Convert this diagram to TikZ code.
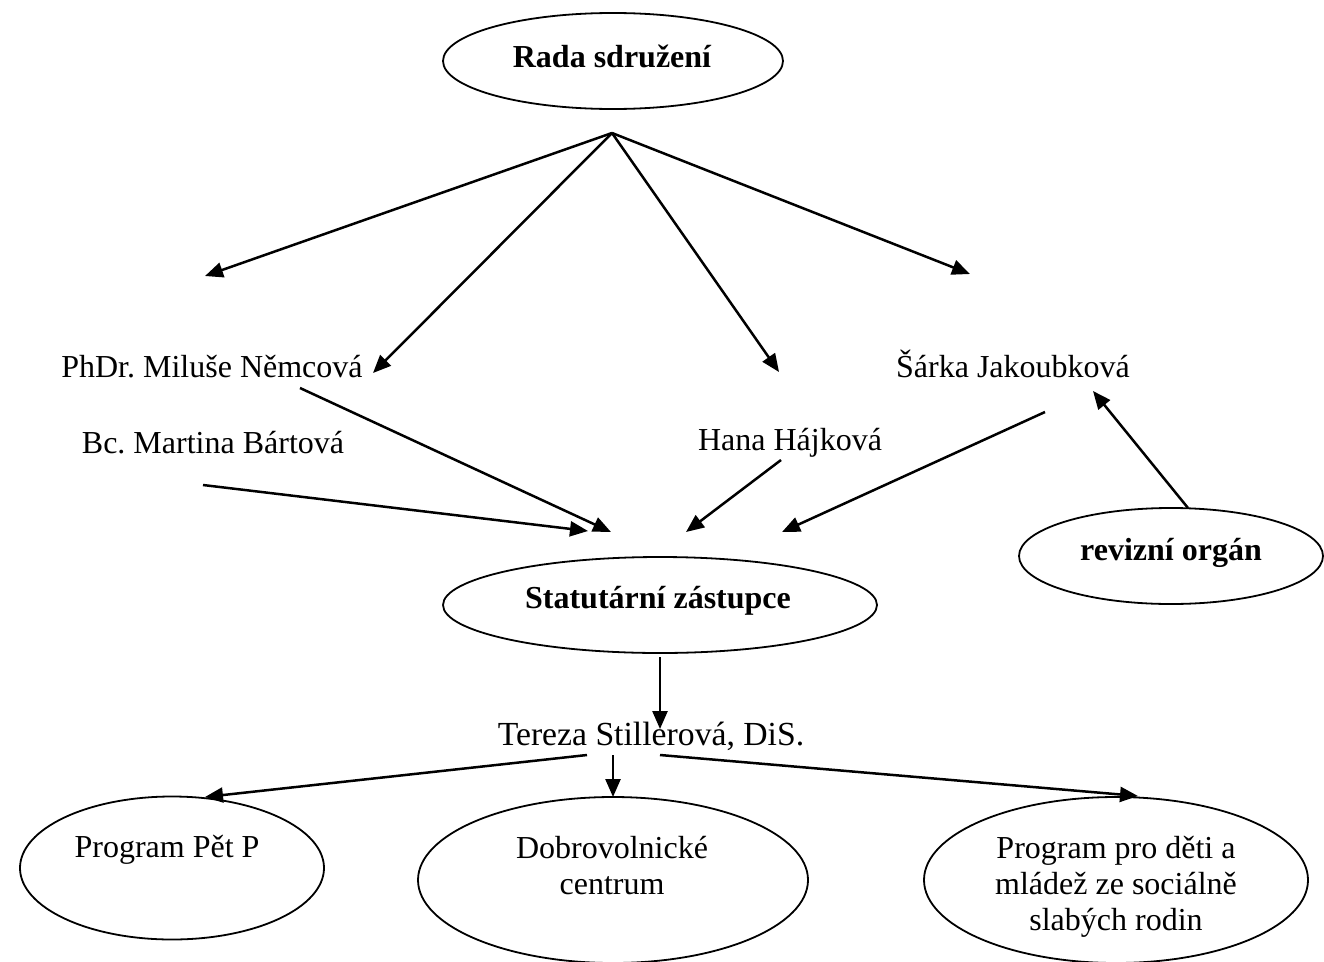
\documentclass[tikz,border=0pt]{standalone}
\usepackage{fontspec}
\setmainfont{Liberation Serif}
\usetikzlibrary{arrows.meta,shapes.geometric}
\frenchspacing
\begin{document}
\begin{tikzpicture}[x=1pt,y=-1pt,
  oval/.style={draw=black,line width=1.8pt,ellipse,inner sep=0pt},
  lbl/.style={anchor=base,inner sep=0pt,font=\fontsize{32}{36}\selectfont,align=center},
  blbl/.style={lbl,font=\fontsize{32}{36}\selectfont\bfseries},
  conn/.style={line width=2.5pt,-{Triangle[length=18pt,width=15pt]}}]
\useasboundingbox (0,0) rectangle (1324,961);
% ellipses
\node[oval,minimum width=340pt,minimum height=96pt] (rada) at (613,61) {};
\node[oval,minimum width=434pt,minimum height=96pt] (stat) at (660,605) {};
\node[oval,minimum width=304pt,minimum height=96pt] (rev) at (1171,556) {};
\node[oval,minimum width=304pt,minimum height=143pt] (pet) at (172,868) {};
\node[oval,minimum width=390pt,minimum height=166pt] (dob) at (613,880) {};
\node[oval,minimum width=384pt,minimum height=166pt] (mlad) at (1116,880) {};
% texts
\node[blbl] (tRada) at (612,67) {Rada sdružení};
\node[blbl] (tStat) at (658,608) {Statutární zástupce};
\node[blbl] (tRev) at (1171,560) {revizní orgán};
\node[lbl] (nem) at (212,377) {PhDr. Miluše Němcová};
\node[lbl] (bar) at (213,453) {Bc. Martina Bártová};
\node[lbl] (haj) at (790,450) {Hana Hájková};
\node[lbl] (jak) at (1013,377) {Šárka Jakoubková};
\node[lbl,font=\fontsize{33.7}{38}\selectfont] (ter) at (651,745) {Tereza Stillerová, DiS.};
\node[lbl] (tPet) at (167,857) {Program Pět P};
\node[lbl] (tDob) at (612,894) {Dobrovolnické\\centrum};
\node[lbl] (tMlad) at (1116,930) {Program pro děti a\\mládež ze sociálně\\slabých rodin};
% connector ends
\coordinate (apex) at (612,133);
\coordinate (a1) at (205,276);
\coordinate (a2) at (373,373);
\coordinate (a3) at (779,372);
\coordinate (a4) at (970,274);
\coordinate (nemS) at (300,388);
\coordinate (nemT) at (611,532);
\coordinate (barS) at (203,485);
\coordinate (barT) at (588,531);
\coordinate (hajS) at (781,460);
\coordinate (hajT) at (686,532);
\coordinate (jakS) at (1045,412);
\coordinate (jakT) at (782,532);
\coordinate (revS) at (1188,508);
\coordinate (revT) at (1093,391);
\coordinate (statS) at (660,657);
\coordinate (terT) at (660,729);
\coordinate (terL) at (587,755);
\coordinate (terM) at (613,755);
\coordinate (terR) at (660,755);
\coordinate (petT) at (205,797);
\coordinate (dobT) at (613,797);
\coordinate (mladT) at (1138,796);
% connectors
\draw[conn] (apex) -- (a1);
\draw[conn] (apex) -- (a2);
\draw[conn] (apex) -- (a3);
\draw[conn] (apex) -- (a4);
\draw[conn] (nemS) -- (nemT);
\draw[conn] (barS) -- (barT);
\draw[conn] (hajS) -- (hajT);
\draw[conn] (jakS) -- (jakT);
\draw[conn] (revS) -- (revT);
\draw[conn] (statS) -- (terT);
\draw[conn] (terL) -- (petT);
\draw[conn] (terM) -- (dobT);
\draw[conn] (terR) -- (mladT);
\end{tikzpicture}
\end{document}
